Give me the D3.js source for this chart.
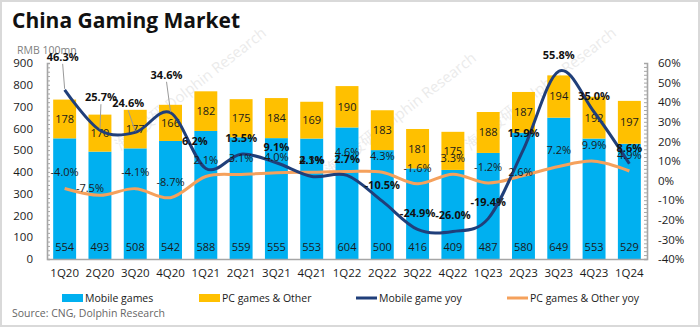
<!DOCTYPE html>
<html>
<head>
<meta charset="utf-8">
<script src="https://cdn.jsdelivr.net/npm/d3@7/dist/d3.min.js"></script>
<style>
  html, body { margin: 0; padding: 0; background: #fff; }
  svg { display: block; font-family: "Open Sans", "Noto Sans", sans-serif; }
</style>
</head>
<body>
<svg id="chart" width="700" height="327"></svg>
<script>
// Quarterly revenue (RMB 100mn) and year-over-year growth (%)
const quarters = ["1Q20","2Q20","3Q20","4Q20","1Q21","2Q21","3Q21","4Q21","1Q22",
                  "2Q22","3Q22","4Q22","1Q23","2Q23","3Q23","4Q23","1Q24"];
const mobileGames = [554,493,508,542,588,559,555,553,604,500,416,409,487,580,649,553,529];
const pcGamesOther = [178,170,177,166,182,175,184,169,190,183,181,175,188,187,194,192,197];
const mobileYoy = [46.3,25.7,24.6,34.6,6.2,13.5,9.1,2.1,2.7,-10.5,-24.9,-26.0,-19.4,15.9,55.8,35.0,8.6];
const pcYoy = [-4.0,-7.5,-4.1,-8.7,2.1,3.1,4.0,4.3,4.6,4.3,-1.6,3.3,-1.2,2.6,7.2,9.9,4.9];
const leftTicks = [0,100,200,300,400,500,600,700,800,900];
const rightTicks = [-40,-30,-20,-10,0,10,20,30,40,50,60];

const C = {
  mobile: "#00b0f0",
  pc: "#ffc000",
  mobileLine: "#203f7a",
  pcLine: "#f5a15c",
  axis: "#a6a6a6",
  text: "#1a1a1a"
};

const svg = d3.select("#chart");
const W = 700, H = 327;
const plot = { left: 47, right: 647, top: 63, bottom: 259 };

// frame
svg.append("rect").attr("x", 1).attr("y", 1).attr("width", W - 2).attr("height", H - 2)
  .attr("fill", "#fff").attr("stroke", "#d9d9d9").attr("stroke-width", 2);

// title
svg.append("text").attr("x", 12).attr("y", 28)
  .attr("font-size", 21).attr("font-weight", 700).attr("fill", "#111")
  .text("China Gaming Market");

svg.append("text").attr("x", 17).attr("y", 54)
  .attr("font-size", 10.5).attr("fill", "#7f7f7f")
  .text("RMB 100mn");

const x = d3.scaleBand().domain(quarters)
  .range([plot.left, plot.right]).paddingInner(0.35).paddingOuter(0.175);
const yL = d3.scaleLinear().domain([0, 900]).range([plot.bottom, plot.top]);
const yR = d3.scaleLinear().domain([-40, 60]).range([plot.bottom, plot.top]);
const cx = q => x(q) + x.bandwidth() / 2;

const rows = quarters.map((q, i) => ({
  q, mobile: mobileGames[i], pc: pcGamesOther[i], mYoy: mobileYoy[i], pYoy: pcYoy[i]
}));

// faint publisher watermark, kept behind the marks' labels
const wm = svg.append("g").attr("pointer-events", "none");

// stacked bars
const g = svg.append("g");
g.selectAll("rect.mobile").data(rows).join("rect").attr("class", "mobile")
  .attr("x", d => x(d.q)).attr("width", x.bandwidth())
  .attr("y", d => yL(d.mobile)).attr("height", d => yL(0) - yL(d.mobile))
  .attr("fill", C.mobile);
g.selectAll("rect.pc").data(rows).join("rect").attr("class", "pc")
  .attr("x", d => x(d.q)).attr("width", x.bandwidth())
  .attr("y", d => yL(d.mobile + d.pc)).attr("height", d => yL(d.mobile) - yL(d.mobile + d.pc))
  .attr("fill", C.pc);

// left axis: minor ticks inside, labels outside
const axL = svg.append("g").attr("transform", `translate(${plot.left},0)`)
  .call(d3.axisRight(yL).tickValues(d3.range(0, 901, 20)).tickSize(3).tickFormat(""));
const axLlab = svg.append("g").attr("transform", `translate(${plot.left},0)`)
  .call(d3.axisLeft(yL).tickValues(leftTicks).tickSize(0).tickPadding(14));
axLlab.select(".domain").remove();

// right axis
const axR = svg.append("g").attr("transform", `translate(${plot.right},0)`)
  .call(d3.axisLeft(yR).tickValues(d3.range(-40, 61, 2)).tickSize(3).tickFormat(""));
const axRlab = svg.append("g").attr("transform", `translate(${plot.right},0)`)
  .call(d3.axisRight(yR).tickValues(rightTicks).tickSize(0).tickPadding(11)
    .tickFormat(d => d + "%"));
axRlab.select(".domain").remove();

// bottom axis
const axB = svg.append("g").attr("transform", `translate(0,${plot.bottom})`)
  .call(d3.axisBottom(x).tickSize(0).tickPadding(10));

[axL, axR, axB].forEach(a => {
  a.select(".domain").attr("stroke", C.axis).attr("stroke-width", 1.6);
  a.selectAll(".tick line").attr("stroke", C.axis);
});
[axLlab, axRlab, axB].forEach(a => {
  a.selectAll("text").attr("font-size", 11.5).attr("fill", C.text)
    .attr("font-family", "'Open Sans', sans-serif");
});

// value labels inside bars
g.selectAll("text.mv").data(rows).join("text").attr("class", "mv")
  .attr("x", d => cx(d.q)).attr("y", yL(0) - 12).attr("dy", "0.35em")
  .attr("text-anchor", "middle").attr("font-size", 11).attr("fill", C.text)
  .text(d => d.mobile);
g.selectAll("text.pv").data(rows).join("text").attr("class", "pv")
  .attr("x", d => cx(d.q)).attr("y", d => yL(d.mobile + d.pc / 2)).attr("dy", "0.35em")
  .attr("text-anchor", "middle").attr("font-size", 11).attr("fill", C.text)
  .text(d => d.pc);

// smoothed yoy lines
const line = key => d3.line().x(d => cx(d.q)).y(d => yR(d[key])).curve(d3.curveCardinal.tension(0));
svg.append("path").datum(rows).attr("d", line("pYoy"))
  .attr("fill", "none").attr("stroke", C.pcLine).attr("stroke-width", 3);
svg.append("path").datum(rows).attr("d", line("mYoy"))
  .attr("fill", "none").attr("stroke", C.mobileLine).attr("stroke-width", 3);

// yoy labels, with a few nudged off the lines
const fmt = v => v.toFixed(1) + "%";
const pcNudge = { "2Q20": [-10, -7], "4Q21": [0, -12], "1Q22": [0, -19], "2Q23": [-3, -3] };
svg.selectAll("text.py").data(rows).join("text").attr("class", "py")
  .attr("x", d => cx(d.q) + (pcNudge[d.q] ? pcNudge[d.q][0] : 0))
  .attr("y", d => yR(d.pYoy) + (pcNudge[d.q] ? pcNudge[d.q][1] : -16)).attr("dy", "0.35em")
  .attr("text-anchor", "middle").attr("font-size", 11).attr("fill", C.text)
  .text(d => fmt(d.pYoy));

const mNudge = {
  "1Q20": [-2, -33, true], "2Q20": [1, -33, true], "3Q20": [-7, -29, true],
  "4Q20": [-4, -38, true], "1Q21": [-11, -27, false]
};
rows.forEach(d => {
  const n = mNudge[d.q];
  if (n && n[2]) {
    svg.append("line")
      .attr("x1", cx(d.q) + n[0]).attr("y1", yR(d.mYoy) + n[1] + 7)
      .attr("x2", cx(d.q)).attr("y2", yR(d.mYoy) - 1)
      .attr("stroke", "#9a9a9a").attr("stroke-width", 1);
  }
});
svg.selectAll("text.my").data(rows).join("text").attr("class", "my")
  .attr("x", d => cx(d.q) + (mNudge[d.q] ? mNudge[d.q][0] : 0))
  .attr("y", d => yR(d.mYoy) + (mNudge[d.q] ? mNudge[d.q][1] : -16)).attr("dy", "0.35em")
  .attr("text-anchor", "middle").attr("font-size", 11).attr("font-weight", 700).attr("fill", "#111")
  .text(d => fmt(d.mYoy));

// legend
const legend = [
  { label: "Mobile games", color: C.mobile, kind: "rect", x: 62 },
  { label: "PC games & Other", color: C.pc, kind: "rect", x: 199 },
  { label: "Mobile game yoy", color: C.mobileLine, kind: "line", x: 356 },
  { label: "PC games & Other yoy", color: C.pcLine, kind: "line", x: 507 }
];
const lg = svg.append("g").attr("transform", "translate(0,298)");
legend.forEach(it => {
  if (it.kind === "rect") {
    lg.append("rect").attr("x", it.x).attr("y", -4).attr("width", 21).attr("height", 8).attr("fill", it.color);
  } else {
    lg.append("rect").attr("x", it.x).attr("y", -1.5).attr("width", 21).attr("height", 3).attr("fill", it.color);
  }
  lg.append("text").attr("x", it.x + 23).attr("y", 0).attr("dy", "0.35em")
    .attr("font-size", 10.5).attr("fill", C.text).text(it.label);
});

svg.append("text").attr("x", 12).attr("y", 313).attr("dy", "0.35em")
  .attr("font-size", 10.5).attr("fill", "#666")
  .text("Source: CNG, Dolphin Research");

[[120, 150], [330, 175], [470, 150]].forEach(([wx, wy]) => {
  wm.append("text").attr("transform", `translate(${wx},${wy}) rotate(-38)`)
    .attr("font-size", 15).attr("fill", "#bdbdbd").attr("opacity", 0.3)
    .text("海豚投研 Dolphin Research");
});
</script>
</body>
</html>
